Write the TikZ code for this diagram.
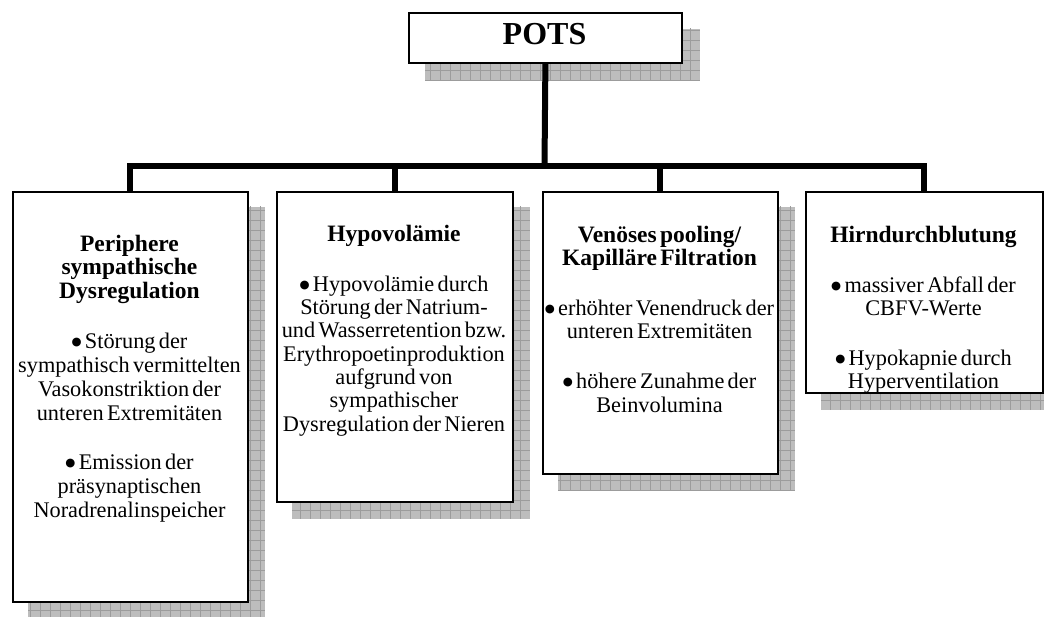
\documentclass[tikz,border=0pt]{standalone}
\usepackage{fontspec}
\setmainfont{Liberation Serif}
\newfontfamily\mysymfont{DejaVu Sans}
\usetikzlibrary{calc}
\pgfdeclarelayer{bg}
\pgfsetlayers{bg,main}
\newcommand\myhd{\fontsize{23.5}{23.3}\selectfont\bfseries}
\newcommand\mybd{\fontsize{22.3}{23.3}\selectfont\mdseries}
\newcommand\mybdw{\fontsize{22.3}{24}\selectfont\mdseries}
\newcommand\mybul{\raisebox{2.8pt}{\mysymfont\fontsize{11.5}{0}\selectfont ●}}
\newcommand\pgap{\par\vspace{26.5pt}}
\newcommand\myshadow[2]{%
  \begin{scope}
    \clip ($(#1.north west)+(#2,#2)$) rectangle ($(#1.south east)+(#2,#2)$);
    \fill[shadefill] ($(#1.north west)+(#2,#2)$) rectangle ($(#1.south east)+(#2,#2)$);
    \draw[shadegrid, step=10pt] (0,0) grid (1100,650);
  \end{scope}}
\tikzset{
  box/.style={draw=black, line width=1.8pt, fill=white, inner sep=0pt, anchor=north west},
  conn/.style={line width=6pt, line cap=butt, line join=miter},
  txt/.style={anchor=north, inner sep=0pt, text width=250pt, align=center},
  shadefill/.style={fill=gray!52},
  shadegrid/.style={draw=gray!78, line width=0.6pt},
}
\begin{document}
\begin{tikzpicture}[x=1pt,y=-1pt]
\useasboundingbox (0,0) rectangle (1044,617);
% boxes
\node[box, minimum width=273pt, minimum height=50pt] (b0) at (408,12) {};
\node[box, minimum width=235pt, minimum height=410pt] (b1) at (12,191) {};
\node[box, minimum width=236pt, minimum height=310pt] (b2) at (276,191) {};
\node[box, minimum width=235pt, minimum height=282pt] (b3) at (542,191) {};
\node[box, minimum width=237pt, minimum height=201pt] (b4) at (805,191) {};
% shadows
\begin{pgfonlayer}{bg}
  \myshadow{b0}{17}
  \myshadow{b1}{16}
  \myshadow{b2}{16}
  \myshadow{b3}{16}
  \myshadow{b4}{16}
\end{pgfonlayer}
% texts
\node[anchor=base, inner sep=0pt, font=\fontsize{32}{32}\selectfont\bfseries] (t0) at (544.5,45) {POTS};
\node[txt] (t1) at (129.5,235) {\myhd Periphere\\sympathische\\Dysregulation\par\vspace{26pt}
  \mybdw \mybul{} Störung der\\sympathisch vermittelten\\Vasokonstriktion der\\unteren Extremitäten\par\vspace{25pt}
  \mybul{} Emission der\\präsynaptischen\\Noradrenalinspeicher\par};
\node[txt] (t2) at (394,225) {\myhd Hypovolämie\pgap
  \mybd \mybul{} Hypovolämie durch\\Störung der Natrium-\\und Wasserretention bzw.\\Erythropoetinproduktion\\aufgrund von\\sympathischer\\Dysregulation der Nieren\par};
\node[txt] (t3) at (659.5,226) {\myhd Venöses pooling/\\Kapilläre Filtration\pgap
  \mybd \mybul{} erhöhter Venendruck der\\unteren Extremitäten\pgap
  \mybul{} höhere Zunahme der\\Beinvolumina\par};
\node[txt] (t4) at (923.5,226) {\myhd Hirndurchblutung\pgap
  \mybd \mybul{} massiver Abfall der\\CBFV-Werte\pgap
  \mybul{} Hypokapnie durch\\Hyperventilation\par};
% connectors
\coordinate (j) at (544.5,166);
\draw[conn] (b0.south) -- (j);
\draw[conn] (b1.north) -- (b1.north |- j) -- (b4.north |- j) -- (b4.north);
\draw[conn] (b2.north) -- (b2.north |- j);
\draw[conn] (b3.north) -- (b3.north |- j);
\end{tikzpicture}
\end{document}
